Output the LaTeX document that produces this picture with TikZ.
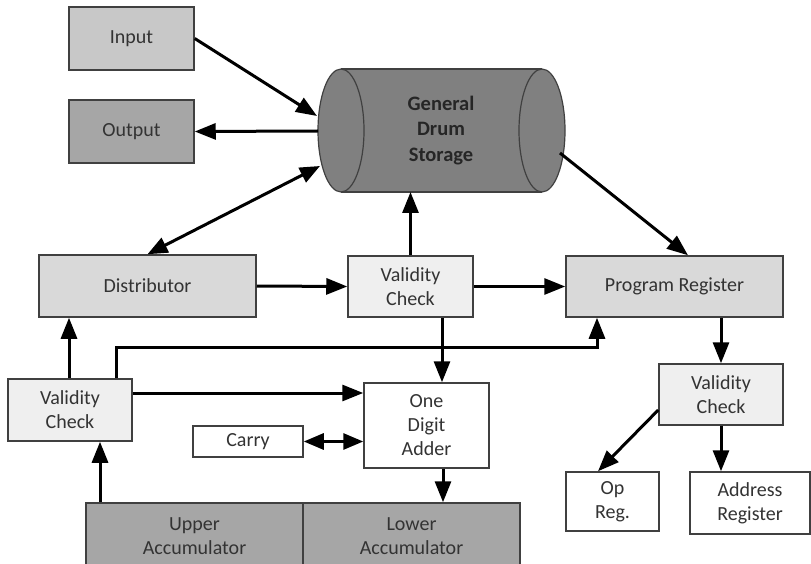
\documentclass[tikz,border=0pt]{standalone}
\usepackage{fontspec}
\setmainfont{Carlito}
\usetikzlibrary{arrows.meta}
\definecolor{cIn}{HTML}{C8C8C8}
\definecolor{cOut}{HTML}{A6A6A6}
\definecolor{cDrum}{HTML}{808080}
\definecolor{cMid}{HTML}{D9D9D9}
\definecolor{cLight}{HTML}{EFEFEF}
\definecolor{cAcc}{HTML}{A6A6A6}
\definecolor{cLine}{HTML}{404040}
\definecolor{cText}{HTML}{333333}
\begin{document}
\begin{tikzpicture}[x=1pt,y=-1pt,
  box/.style={draw=cLine, line width=1.5pt, text=cText, align=center,
    font=\fontsize{20}{24}\selectfont, inner sep=0pt},
  arr/.style={line width=3pt, -{Triangle[length=21pt,width=16pt]}},
  darr/.style={line width=3pt, {Triangle[length=20pt,width=16pt]}-{Triangle[length=20pt,width=16pt]}},
]
\useasboundingbox (0,0) rectangle (811,564);
\fill[white] (0,0) rectangle (811,564);

% drum storage cylinder
\fill[cDrum] (341,69) rectangle (542,192);
\draw[cLine, line width=1.2pt] (341,69) -- (542,69) (341,192) -- (542,192);
\draw[cLine, line width=1.2pt, fill=cDrum] (341,130.5) ellipse [x radius=23, y radius=61.5];
\draw[cLine, line width=1.2pt, fill=cDrum] (542,130.5) ellipse [x radius=23, y radius=61.5];
\node[align=center, text=black!85, font=\fontsize{20.5}{25.5}\selectfont\bfseries] (storage) at (441,130.5) {General\\Drum\\Storage};
\coordinate (cylIn) at (317,116);
\coordinate (cylOut) at (318,131);
\coordinate (cylDist) at (320,166);
\coordinate (cylBot) at (410.5,192);
\coordinate (cylRight) at (560,153);

% boxes
\node[box, fill=cIn, minimum width=125pt, minimum height=63pt] (input) at (131.5,38.5) {Input};
\node[box, fill=cOut, minimum width=125pt, minimum height=63pt] (output) at (131.5,131.5) {Output};
\node[box, fill=cMid, minimum width=217pt, minimum height=62pt] (dist) at (147.5,286) {Distributor};
\node[box, fill=cLight, minimum width=125pt, minimum height=61pt] (vcm) at (410.5,286.5) {Validity\\Check};
\node[box, fill=cMid, minimum width=217pt, minimum height=61pt] (pr) at (674.5,286.5) {Program Register};
\node[box, fill=cLight, minimum width=124pt, minimum height=61pt] (vcr) at (721,394.5) {Validity\\Check};
\node[box, fill=white, minimum width=93pt, minimum height=59pt] (opreg) at (612.5,501.5) {Op\\Reg.};
\node[box, fill=white, minimum width=120pt, minimum height=62pt] (addr) at (750,503) {Address\\Register};
\node[box, fill=cLight, minimum width=124pt, minimum height=62pt] (vcl) at (70,410) {Validity\\Check};
\node[box, fill=white, minimum width=125pt, minimum height=85pt] (adder) at (426.5,425.5) {One\\Digit\\Adder};
\node[box, fill=white, minimum width=110pt, minimum height=31pt] (carry) at (248,441.5) {Carry};
\node[box, fill=cAcc, minimum width=217pt, minimum height=66pt] (upper) at (194.5,536) {Upper\\Accumulator};
\node[box, fill=cAcc, minimum width=217pt, minimum height=66pt] (lower) at (411.5,536) {Lower\\Accumulator};

% connectors
\draw[arr] (input.east) -- (cylIn);
\draw[arr] (cylOut) -- (output.east);
\draw[darr] (dist.north) -- (cylDist);
\draw[arr] (dist.east) -- (vcm.west);
\draw[arr] (vcm.north) -- (cylBot);
\draw[arr] (vcm.east) -- (pr.west);
\draw[arr] (cylRight) -- ([xshift=13.5pt]pr.north);
\draw[arr] ([xshift=31.5pt]vcm.south) -- ([xshift=15.5pt]adder.north);
\draw[arr] (vcr.north |- pr.south) -- (vcr.north);
\draw[arr] ([yshift=-15.5pt]vcr.west) -- ([xshift=-14.5pt]opreg.north);
\draw[arr] (vcr.south) -- (vcr.south |- addr.north);
\draw[arr] ([xshift=-1pt]vcl.north) -- ([xshift=-1pt]vcl.north |- dist.south);
\coordinate (bendA) at (116,347);
\draw[arr] ([xshift=46pt]vcl.north) -- (bendA) -| ([xshift=-77.5pt]pr.south);
\coordinate (vclOut) at ([yshift=17pt]vcl.east);
\draw[arr] (vclOut) -- (vclOut -| adder.west);
\draw[darr] (carry.east) -- (carry.east -| adder.west);
\coordinate (uacc) at ([xshift=-94.5pt]upper.north);
\draw[arr] (uacc) -- (uacc |- vcl.south);
\coordinate (ad) at ([xshift=16.5pt]adder.south);
\draw[arr] (ad) -- (ad |- lower.north);
\end{tikzpicture}
\end{document}
